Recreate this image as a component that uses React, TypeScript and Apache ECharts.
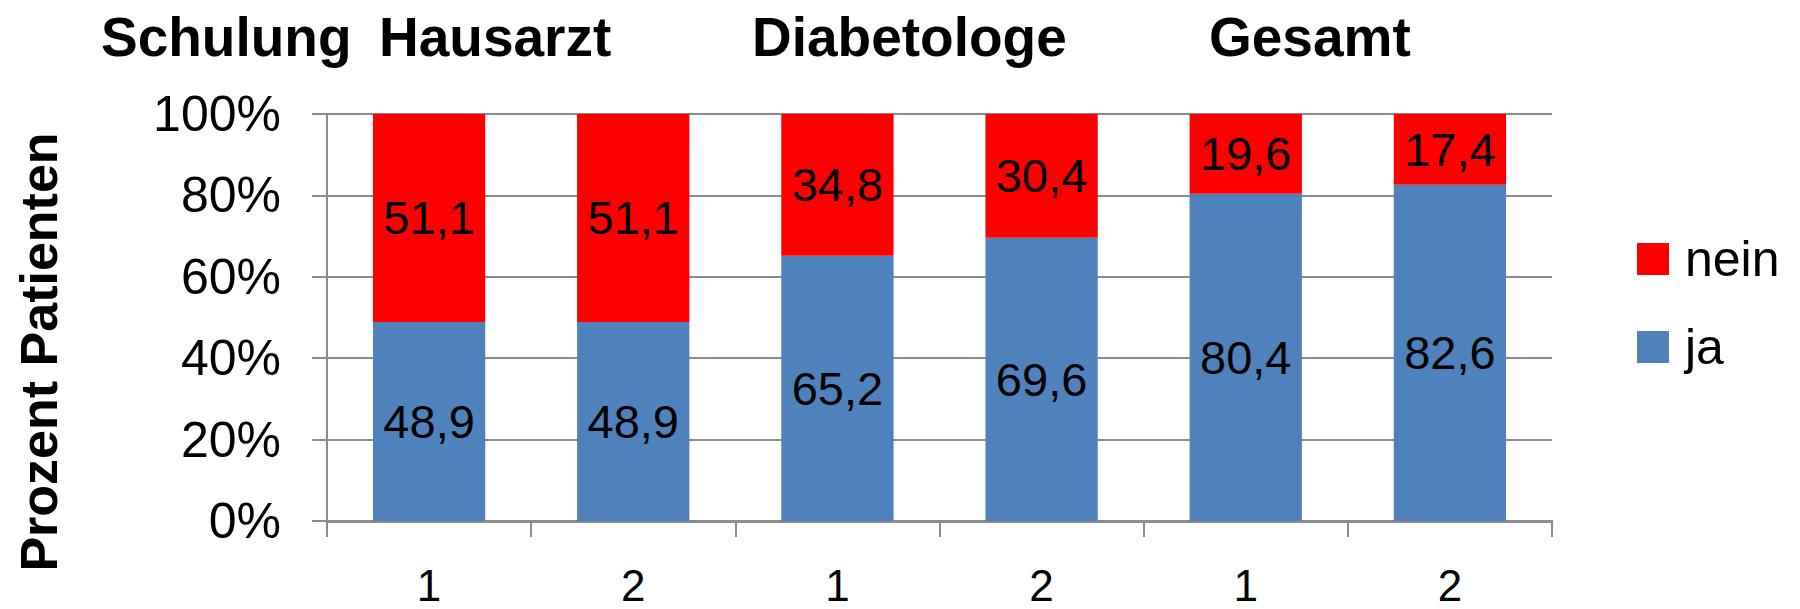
import React, { useEffect, useRef } from "react";
import * as echarts from "echarts";

// Schulung rounds per group (1 = first, 2 = second)
const categories = ["1", "2", "1", "2", "1", "2"];
const jaValues = [48.9, 48.9, 65.2, 69.6, 80.4, 82.6];
const neinValues = [51.1, 51.1, 34.8, 30.4, 19.6, 17.4];
const groupTitles = ["Schulung", "Hausarzt", "Diabetologe", "Gesamt"];
const groupTitleLeft = [101, 379, 752, 1209];
const yTicks = [0, 20, 40, 60, 80, 100];

const REG = "'Liberation Sans', Arial, sans-serif";
const GRAY = "#8c8c8c";

export default function App() {
  const ref = useRef<HTMLDivElement>(null);

  useEffect(() => {
    if (!ref.current) return;
    const chart = echarts.init(ref.current, null, { renderer: "svg" });
    const fmt = (p: any) => String(p.value).replace(".", ",");
    chart.setOption({
      animation: false,
      backgroundColor: "#ffffff",
      title: groupTitles.map((t, i) => ({
        text: t,
        left: groupTitleLeft[i],
        top: 9,
        padding: 0,
        textStyle: { fontFamily: REG, fontWeight: "bold", fontSize: 55, color: "#000" },
      })),
      legend: {
        orient: "vertical",
        left: 1637,
        top: 234,
        padding: 0,
        itemWidth: 32,
        itemHeight: 32,
        itemGap: 38,
        icon: "rect",
        data: ["nein", "ja"],
        textStyle: { fontFamily: REG, fontSize: 50, color: "#000", padding: [0, 0, 0, 11] },
      },
      graphic: [
        {
          type: "text",
          x: 39,
          y: 352,
          rotation: Math.PI / 2,
          style: {
            text: "Prozent Patienten",
            align: "center",
            verticalAlign: "middle",
            font: `bold 52px ${REG}`,
            fill: "#000",
          },
        },
      ],
      grid: { left: 327, right: 248, top: 114, bottom: 88 },
      xAxis: {
        type: "category",
        data: categories,
        axisLine: { show: true, lineStyle: { color: GRAY, width: 3 } },
        axisTick: { show: true, length: 16, interval: 0, lineStyle: { color: GRAY, width: 2 } },
        axisLabel: { fontFamily: REG, fontSize: 44, lineHeight: 36, color: "#000", margin: 46, interval: 0 },
      },
      yAxis: {
        type: "value",
        min: 0,
        max: 100,
        interval: 20,
        axisLine: { show: true, lineStyle: { color: GRAY, width: 2 } },
        axisTick: { show: true, length: 15, lineStyle: { color: GRAY, width: 2 } },
        splitLine: { show: true, lineStyle: { color: GRAY, width: 2 } },
        axisLabel: {
          fontFamily: REG,
          fontSize: 50,
          color: "#000",
          margin: 46,
          formatter: (v: number) => (yTicks.includes(v) ? `${v}%` : ""),
        },
      },
      series: [
        {
          name: "ja",
          type: "bar",
          stack: "total",
          data: jaValues,
          barCategoryGap: "45%",
          itemStyle: { color: "#4F81BD" },
          label: { show: true, position: "inside", formatter: fmt, fontFamily: REG, fontSize: 47, color: "#000" },
        },
        {
          name: "nein",
          type: "bar",
          stack: "total",
          data: neinValues,
          barCategoryGap: "45%",
          itemStyle: { color: "#FF0000" },
          label: { show: true, position: "inside", formatter: fmt, fontFamily: REG, fontSize: 47, color: "#000" },
        },
      ],
    });
    return () => chart.dispose();
  }, []);

  return <div ref={ref} style={{ width: 1800, height: 609, position: "absolute", left: 0, top: 0 }} />;
}
